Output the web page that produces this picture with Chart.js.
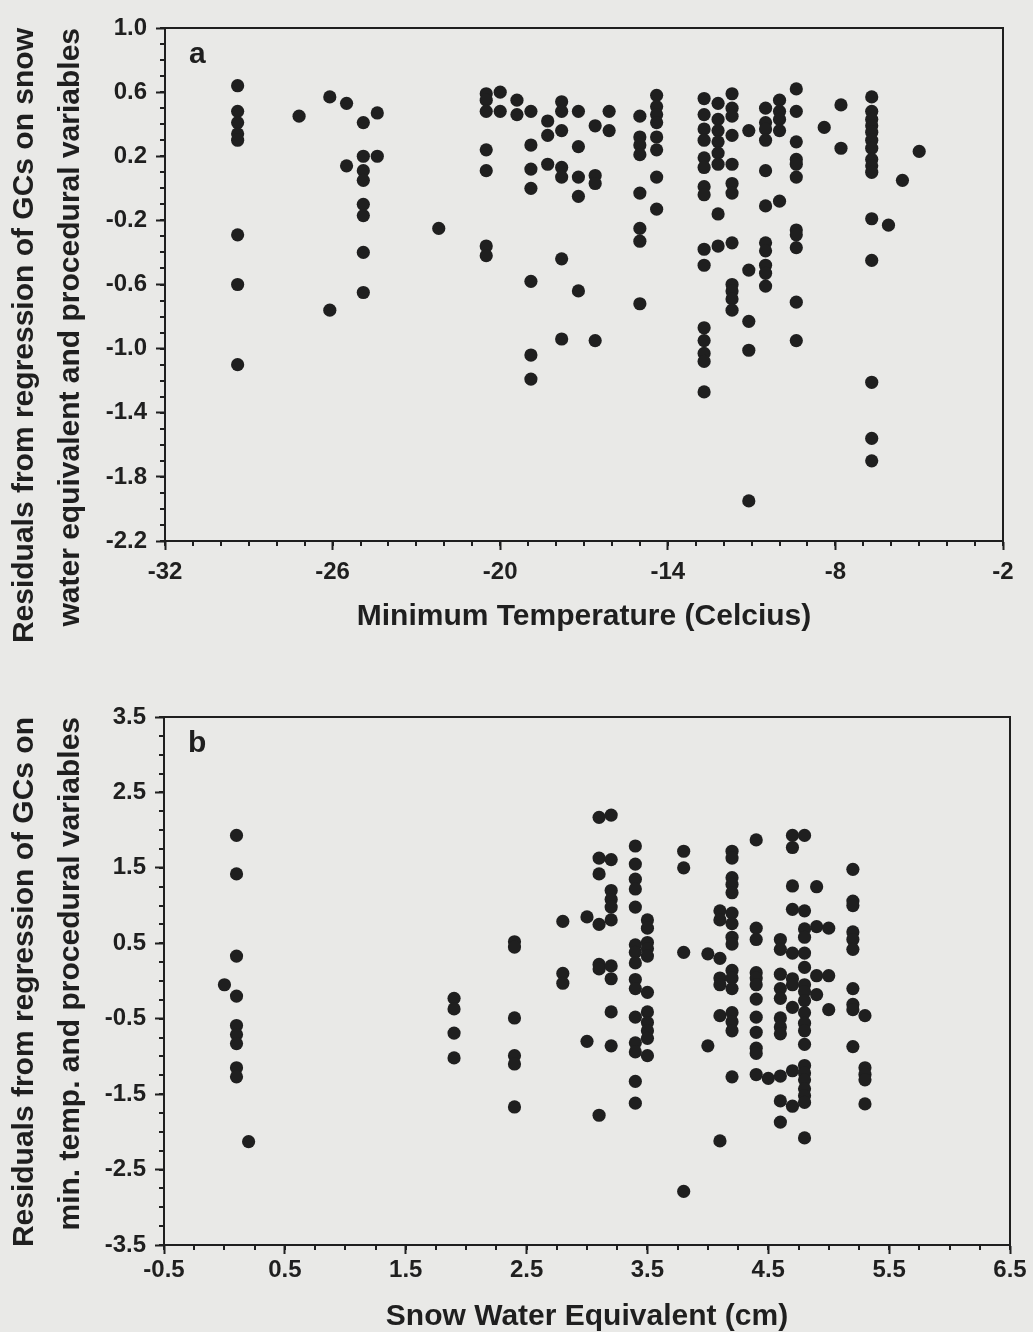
<!DOCTYPE html>
<html lang="en">
<head>
<meta charset="UTF-8">
<title>Residuals vs minimum temperature and snow water equivalent</title>
<script src="https://cdn.jsdelivr.net/npm/chart.js@4.4.1/dist/chart.umd.min.js"></script>
<style>
    body { margin: 0; background: #e9e9e7; }
    canvas { display: block; }
</style>
</head>
<body>

<canvas id="panel-a" width="1033" height="680"></canvas>
<canvas id="panel-b" width="1033" height="652"></canvas>

<script>
// Panel a: residuals from regression of GCs on snow water equivalent, by minimum temperature
// one x value per column of dots, the residuals of that column in residA
const minTemp = [-29.4, -27.2, -26.1, -25.5, -24.9, -24.4, -22.2, -20.5, -20.0, -19.4, -18.9,
                 -18.3, -17.8, -17.2, -16.6, -16.1, -15.0, -14.4, -12.7, -12.2, -11.7, -11.1,
                 -10.5, -10.0, -9.4, -8.4, -7.8, -6.7, -6.1, -5.6, -5.0];
const residA = [
    [0.64, 0.48, 0.41, 0.34, 0.30, -0.29, -0.60, -1.10],
    [0.45],
    [0.57, -0.76],
    [0.53, 0.14],
    [0.41, 0.20, 0.11, 0.05, -0.10, -0.17, -0.40, -0.65],
    [0.47, 0.20],
    [-0.25],
    [0.59, 0.55, 0.48, 0.24, 0.11, -0.36, -0.42],
    [0.60, 0.48],
    [0.55, 0.46],
    [0.48, 0.27, 0.12, 0.00, -0.58, -1.04, -1.19],
    [0.42, 0.33, 0.15],
    [0.54, 0.48, 0.36, 0.13, 0.07, -0.44, -0.94],
    [0.48, 0.26, 0.07, -0.05, -0.64],
    [0.39, 0.08, 0.03, -0.95],
    [0.48, 0.36],
    [0.45, 0.32, 0.27, 0.21, -0.03, -0.25, -0.33, -0.72],
    [0.58, 0.51, 0.46, 0.41, 0.32, 0.24, 0.07, -0.13],
    [0.56, 0.46, 0.37, 0.30, 0.19, 0.13, 0.01, -0.04, -0.38, -0.48, -0.87, -0.95, -1.03, -1.08, -1.27],
    [0.53, 0.43, 0.36, 0.29, 0.22, 0.15, -0.16, -0.36],
    [0.59, 0.50, 0.45, 0.33, 0.15, 0.03, -0.03, -0.34, -0.60, -0.64, -0.69, -0.76],
    [0.36, -0.51, -0.83, -1.01, -1.95],
    [0.50, 0.41, 0.37, 0.30, 0.11, -0.11, -0.34, -0.39, -0.48, -0.53, -0.61],
    [0.55, 0.48, 0.43, 0.36, -0.08],
    [0.62, 0.48, 0.29, 0.18, 0.15, 0.07, -0.26, -0.29, -0.37, -0.71, -0.95],
    [0.38],
    [0.52, 0.25],
    [0.57, 0.48, 0.43, 0.39, 0.35, 0.30, 0.25, 0.18, 0.14, 0.10, -0.19, -0.45, -1.21, -1.56, -1.70],
    [-0.23],
    [0.05],
    [0.23]
];

// Panel b: residuals from regression of GCs on min. temp., by snow water equivalent
const swe = [0.0, 0.1, 0.2, 1.9, 2.4, 2.8, 3.0, 3.1, 3.2, 3.4, 3.5, 3.8, 4.0, 4.1, 4.2, 4.4,
             4.5, 4.6, 4.7, 4.8, 4.9, 5.0, 5.2, 5.3];
const residB = [
    [-0.05],
    [1.93, 1.42, 0.33, -0.20, -0.59, -0.71, -0.83, -1.15, -1.27],
    [-2.13],
    [-0.23, -0.37, -0.69, -1.02],
    [0.52, 0.45, -0.49, -0.99, -1.10, -1.67],
    [0.79, 0.10, -0.03],
    [0.85, -0.80],
    [2.17, 1.63, 1.42, 0.75, 0.22, 0.16, -1.78],
    [2.20, 1.61, 1.20, 1.08, 0.98, 0.81, 0.20, 0.03, -0.41, -0.86],
    [1.79, 1.55, 1.35, 1.22, 0.98, 0.48, 0.38, 0.24, 0.02, -0.10, -0.48, -0.82, -0.94, -1.33, -1.62],
    [0.81, 0.70, 0.51, 0.43, 0.33, -0.15, -0.41, -0.55, -0.66, -0.76, -0.99],
    [1.72, 1.50, 0.38, -2.79],
    [0.36, -0.86],
    [0.93, 0.81, 0.30, 0.04, -0.05, -0.46, -2.12],
    [1.72, 1.63, 1.37, 1.28, 1.17, 0.90, 0.76, 0.58, 0.49, 0.14, 0.04, -0.10, -0.42, -0.54, -0.66, -1.27],
    [1.87, 0.70, 0.55, 0.11, 0.04, -0.05, -0.24, -0.48, -0.68, -0.89, -0.96, -1.24],
    [-1.29],
    [0.55, 0.42, 0.09, -0.10, -0.23, -0.49, -0.61, -0.70, -1.26, -1.59, -1.87],
    [1.93, 1.77, 1.26, 0.95, 0.37, 0.03, -0.05, -0.35, -1.19, -1.66],
    [1.93, 0.93, 0.69, 0.58, 0.37, 0.18, -0.05, -0.14, -0.26, -0.42, -0.56, -0.66, -0.84, -1.12,
     -1.22, -1.31, -1.43, -1.52, -1.61, -2.08],
    [1.25, 0.72, 0.07, -0.18],
    [0.70, 0.07, -0.38],
    [1.48, 1.06, 1.00, 0.65, 0.55, 0.42, -0.10, -0.31, -0.38, -0.87],
    [-0.46, -1.15, -1.24, -1.31, -1.63]
];

const ink = '#1f1f1f';
Chart.defaults.font.family = '"Liberation Sans", Arial, Helvetica, sans-serif';
Chart.defaults.color = ink;

// box round the plot, minor ticks, panel letter
const framePlugin = {
    id: 'frame',
    beforeDatasetsDraw(chart, args, opts) {
        const { ctx, chartArea: a, scales: { x, y } } = chart;
        ctx.save();
        ctx.strokeStyle = ink;
        ctx.lineWidth = 2;
        ctx.strokeRect(a.left, a.top, a.right - a.left, a.bottom - a.top);

        ctx.beginPath();
        const nx = Math.round((x.max - x.min) / opts.minorX);
        for (let i = 0; i <= nx; i++) {
            const px = Math.round(x.getPixelForValue(x.min + i * opts.minorX));
            ctx.moveTo(px, a.bottom);
            ctx.lineTo(px, a.bottom + 5);
        }
        const ny = Math.round((y.max - y.min) / opts.minorY);
        for (let i = 0; i <= ny; i++) {
            const py = Math.round(y.getPixelForValue(y.min + i * opts.minorY));
            ctx.moveTo(a.left, py);
            ctx.lineTo(a.left - 5, py);
        }
        ctx.stroke();

        ctx.fillStyle = ink;
        ctx.font = 'bold 30px "Liberation Sans", Arial, sans-serif';
        ctx.textBaseline = 'alphabetic';
        ctx.fillText(opts.letter, a.left + 24, a.top + 35);
        ctx.restore();
    }
};

function puntos(xs, cols) {
    const out = [];
    xs.forEach((xv, i) => cols[i].forEach(yv => out.push({ x: xv, y: yv })));
    return out;
}

function crearPanel(id, data, c) {
    new Chart(document.getElementById(id), {
        type: 'scatter',
        data: {
            datasets: [{
                data: data,
                backgroundColor: ink,
                borderWidth: 0,
                pointRadius: 6.6,
                pointHoverRadius: 6.6
            }]
        },
        options: {
            responsive: false,
            animation: false,
            events: [],
            layout: { padding: { top: c.padTop, right: c.padRight, left: 0, bottom: 0 } },
            plugins: {
                legend: { display: false },
                tooltip: { enabled: false },
                frame: { letter: c.letter, minorX: c.minorX, minorY: c.minorY }
            },
            scales: {
                x: {
                    type: 'linear',
                    min: c.xMin, max: c.xMax,
                    afterFit: s => { s.height = c.xHeight; },
                    ticks: {
                        stepSize: c.xStep,
                        padding: c.xTickPad,
                        color: ink,
                        maxRotation: 0,
                        autoSkip: false,
                        font: { size: 24, weight: 'bold' },
                        callback: v => Number(v).toFixed(c.xDec)
                    },
                    grid: { drawOnChartArea: false, tickLength: 9, tickWidth: 2, tickColor: ink },
                    border: { color: ink, width: 2 },
                    title: {
                        display: true,
                        text: c.xTitle,
                        color: ink,
                        font: { size: 30, weight: 'bold', lineHeight: 1 },
                        padding: { top: 0, bottom: c.xTitlePad }
                    }
                },
                y: {
                    type: 'linear',
                    min: c.yMin, max: c.yMax,
                    afterFit: s => { s.width = c.yWidth; },
                    ticks: {
                        stepSize: c.yStep,
                        padding: 9,
                        color: ink,
                        autoSkip: false,
                        font: { size: 24, weight: 'bold' },
                        callback: v => Number(v).toFixed(1)
                    },
                    grid: { drawOnChartArea: false, tickLength: 9, tickWidth: 2, tickColor: ink },
                    border: { color: ink, width: 2 },
                    title: {
                        display: true,
                        text: c.yTitle,
                        align: 'end',
                        color: ink,
                        font: { size: 30, weight: 'bold', lineHeight: 1.53 },
                        padding: { top: 2, bottom: 0 }
                    }
                }
            }
        },
        plugins: [framePlugin]
    });
}

crearPanel('panel-a', puntos(minTemp, residA), {
    letter: 'a',
    xMin: -32, xMax: -2, xStep: 6, minorX: 1, xDec: 0,
    yMin: -2.2, yMax: 1.0, yStep: 0.4, minorY: 0.1,
    padTop: 28, padRight: 30, xHeight: 139, yWidth: 165,
    xTickPad: 8, xTitlePad: 48,
    xTitle: 'Minimum Temperature (Celcius)',
    yTitle: ['Residuals from regression of GCs on snow', 'water equivalent and procedural variables']
});

crearPanel('panel-b', puntos(swe, residB), {
    letter: 'b',
    xMin: -0.5, xMax: 6.5, xStep: 1, minorX: 0.25, xDec: 1,
    yMin: -3.5, yMax: 3.5, yStep: 1, minorY: 0.25,
    padTop: 37, padRight: 23, xHeight: 87, yWidth: 164,
    xTickPad: 2, xTitlePad: 0,
    xTitle: 'Snow Water Equivalent (cm)',
    yTitle: ['Residuals from regression of GCs on', 'min. temp. and procedural variables']
});
</script>

</body>
</html>
